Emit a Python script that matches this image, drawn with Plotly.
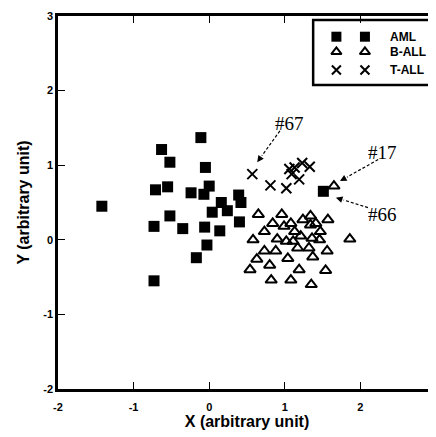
import math
import plotly.graph_objects as go

# ---- data ----
aml_x = [-1.42, -0.63, -0.52, -0.71, -0.55, -0.52, -0.73, -0.35, -0.73, -0.17, -0.11, -0.05, -0.24,
         -0.07, 0.00, -0.06, -0.03, 0.04, 0.16, 0.24, 0.14, 0.39, 0.42, 0.40, 1.51]
aml_y = [0.45, 1.21, 1.04, 0.67, 0.71, 0.32, 0.18, 0.15, -0.55, -0.24, 1.37, 0.97, 0.63,
         0.61, 0.72, 0.17, -0.07, 0.37, 0.50, 0.39, 0.12, 0.60, 0.50, 0.24, 0.65]

ball_x = [0.65, 0.96, 0.84, 0.99, 1.08, 1.24, 1.34, 1.34, 1.41, 1.57, 0.73, 0.58, 0.90, 1.13, 1.21,
          1.02, 1.11, 1.36, 1.47, 1.46, 1.86, 0.73, 0.88, 1.17, 1.32, 1.56, 0.63, 1.04, 1.37, 0.54,
          0.80, 1.19, 1.54, 0.82, 1.08, 1.35, 1.65]
ball_y = [0.34, 0.34, 0.22, 0.18, 0.22, 0.27, 0.32, 0.20, 0.22, 0.27, 0.11, 0.00, 0.01, 0.11, 0.05,
          -0.02, -0.02, 0.02, 0.11, 0.00, 0.01, -0.15, -0.15, -0.11, -0.11, -0.15, -0.26, -0.25, -0.23, -0.40,
          -0.34, -0.40, -0.41, -0.54, -0.54, -0.60, 0.72]

tall_x = [0.57, 0.81, 1.02, 1.06, 1.13, 1.09, 1.19, 1.23, 1.33]
tall_y = [0.88, 0.73, 0.69, 0.95, 0.97, 0.88, 0.81, 1.03, 0.98]

x_ticks = [-2, -1, 0, 1, 2, 3]
y_ticks = [-2, -1, 0, 1, 2, 3]

# labels: text, text position, arrow start, arrow tip
labels = ["#67", "#17", "#66"]
label_x = [1.06, 2.29, 2.29]
label_y = [1.565, 1.165, 0.333]
arrow_from_x = [0.935, 2.235, 2.10]
arrow_from_y = [1.46, 1.076, 0.432]
arrow_to_x = [0.635, 1.73, 1.676]
arrow_to_y = [1.04, 0.787, 0.565]

legend_names = ["AML", "B-ALL", "T-ALL"]

# ---- layout constants (page body adds an 8px offset) ----
OFF = 8
W, H = 436 - OFF, 437 - OFF
ML, MR, MT, MB = 58 - OFF, 0, 16 - OFF, 48
pw, ph = W - ML - MR, H - MT - MB
xr, yr = [-2, 3], [-2, 3]
sx = pw / (xr[1] - xr[0])
sy = ph / (yr[1] - yr[0])


def px2x(f):
    return xr[0] + f * (xr[1] - xr[0])


def py2y(f):
    return yr[0] + f * (yr[1] - yr[0])


fig = go.Figure()

sq = dict(symbol="square", size=11, color="black", line=dict(width=0))
tri = dict(symbol="triangle-up-open", size=10, color="black", line=dict(width=2, color="black"))
crs = dict(symbol="x-thin-open", size=10, color="black", line=dict(width=2, color="black"))

fig.add_trace(go.Scatter(x=aml_x, y=aml_y, mode="markers", marker=sq, name="AML", showlegend=False))
fig.add_trace(go.Scatter(x=ball_x, y=ball_y, mode="markers", marker=tri, name="B-ALL", showlegend=False))
fig.add_trace(go.Scatter(x=tall_x, y=tall_y, mode="markers", marker=crs, name="T-ALL", showlegend=False))

# ---- custom legend (two symbols per entry) ----
leg_sym_f = [0.7365, 0.812]
leg_row_f = [0.9445, 0.904, 0.855]
leg_markers = [dict(symbol="square", size=10, color="black", line=dict(width=0)),
               dict(symbol="triangle-up-open", size=9, color="black", line=dict(width=2, color="black")),
               dict(symbol="x-thin-open", size=9, color="black", line=dict(width=2, color="black"))]
for i, name in enumerate(legend_names):
    fig.add_trace(go.Scatter(x=[px2x(f) for f in leg_sym_f], y=[py2y(leg_row_f[i])] * 2, mode="markers",
                             marker=leg_markers[i], showlegend=False, hoverinfo="skip"))
    fig.add_annotation(xref="paper", yref="paper", x=0.873, y=leg_row_f[i], text=name, showarrow=False,
                       xanchor="left", yanchor="middle",
                       font=dict(family="Liberation Sans, Arial", size=12, color="black", weight="bold"))

fig.add_shape(type="rect", xref="paper", yref="paper", x0=0.675, x1=0.993, y0=0.815, y1=0.989,
              line=dict(color="black", width=2.5), fillcolor="white", layer="below")

# ---- labels with dashed arrows ----
for i, t in enumerate(labels):
    fig.add_annotation(x=label_x[i], y=label_y[i], text=t, showarrow=False,
                       font=dict(family="Liberation Serif, Times New Roman", size=19, color="black"))
    dxp = (arrow_to_x[i] - arrow_from_x[i]) * sx
    dyp = (arrow_to_y[i] - arrow_from_y[i]) * sy
    L = math.hypot(dxp, dyp)
    px = arrow_to_x[i] - 8 * (dxp / L) / sx
    py = arrow_to_y[i] - 8 * (dyp / L) / sy
    fig.add_shape(type="line", x0=arrow_from_x[i], y0=arrow_from_y[i], x1=px, y1=py,
                  line=dict(color="black", width=1.2, dash="3px,2px"))
    fig.add_annotation(x=arrow_to_x[i], y=arrow_to_y[i], ax=px, ay=py, axref="x", ayref="y",
                       text="", showarrow=True, arrowhead=2, arrowsize=1.1, arrowwidth=1.2,
                       arrowcolor="black", standoff=0, startstandoff=0)

tickfont = dict(family="Liberation Sans, Arial", size=11, color="black", weight="bold")
titlefont = dict(family="Liberation Sans, Arial", size=16, color="black", weight="bold")

fig.update_layout(
    template="none",
    width=W, height=H,
    margin=dict(l=ML, r=MR, t=MT, b=MB, pad=0),
    paper_bgcolor="white", plot_bgcolor="white",
    showlegend=False,
    xaxis=dict(range=xr, tickvals=x_ticks, ticktext=[str(v) for v in x_ticks], showgrid=False,
               zeroline=False, showline=True, linecolor="black", linewidth=2.5, mirror="ticks",
               ticks="inside", ticklen=7, tickwidth=1, tickcolor="black", tickfont=tickfont,
               tickangle=0, automargin=False, ticklabelstandoff=6,
               title=dict(text="X (arbitrary unit)", font=titlefont, standoff=2)),
    yaxis=dict(range=yr, tickvals=y_ticks, ticktext=[str(v) for v in y_ticks], showgrid=False,
               zeroline=False, showline=True, linecolor="black", linewidth=2.5, mirror="ticks",
               ticks="inside", ticklen=7, tickwidth=1, tickcolor="black", tickfont=tickfont,
               tickangle=0, automargin=False,
               title=dict(text="Y (arbitrary unit)", font=titlefont, standoff=10)),
)

fig.write_html("out.html")
